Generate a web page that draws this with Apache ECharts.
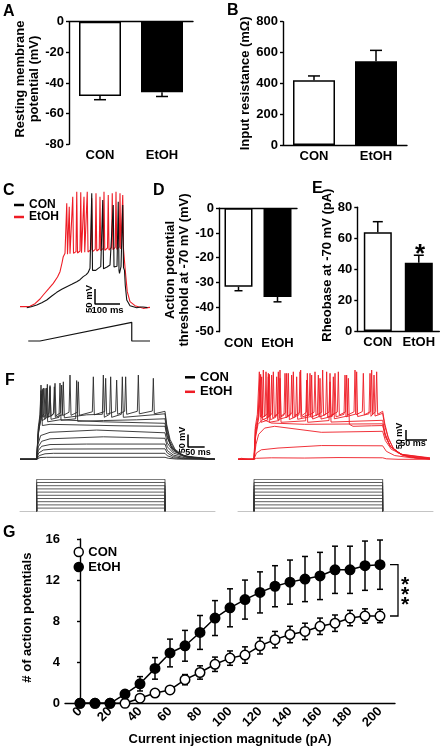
<!DOCTYPE html>
<html><head><meta charset="utf-8">
<script src="https://cdn.jsdelivr.net/npm/echarts@6/dist/echarts.min.js"></script>
<style>html,body{margin:0;padding:0;background:#fff}#c{width:444px;height:750px}</style>
</head><body><div id="c"></div>
<script>
// ---------------- DATA ----------------
const groups = ['CON', 'EtOH'];
const rmpMean = [-48.5, -46.0];   // A: resting membrane potential (mV)
const rmpSem  = [2.4, 2.8];
const rinMean = [420, 543];       // B: input resistance
const rinSem  = [28, 71];
const thrMean = [-31.8, -35.9];   // D: AP threshold (mV)
const thrSem  = [1.6, 2.0];
const rheoMean = [63.8, 44.2];    // E: rheobase (pA)
const rheoSem  = [6.9, 4.8];

const currents = [0,10,20,30,40,50,60,70,80,90,100,110,120,130,140,150,160,170,180,190,200];
const conAP   = [0,0,0,0,0.5,1.0,1.3,2.3,3.0,3.8,4.4,4.7,5.6,6.2,6.7,7.0,7.5,7.8,8.3,8.5,8.5];
const conSem  = [0,0,0,0.1,0.3,0.3,0.3,0.5,0.65,0.7,0.7,0.8,0.8,0.8,0.8,0.8,0.8,0.8,0.75,0.7,0.65];
const etohAP  = [0,0,0,0.9,1.9,3.4,4.9,5.6,6.9,8.3,9.3,10.1,10.8,11.4,11.8,12.1,12.4,13.0,13.0,13.4,13.5];
const etohSem = [0,0,0,0.3,0.7,1.05,1.35,1.5,1.65,1.7,1.85,1.9,2.0,2.0,2.15,2.2,2.3,2.3,2.3,2.4,2.4];
const gTickLabels = [0,20,40,60,80,100,120,140,160,180,200];

// C: ramp-evoked traces, [time ms, mV]
const rampCON = [[27,-72],[45,-69],[67,-64],[87,-57],[107,-49],[127,-37],[147,-26],[167,-17],[187,-9],[207,-2],[227,6],[240,12],[253,21],[265,27],[273,34],[280,46],[284,48],[287,271],[290,40],[293,34],[303,40],[313,46],[323,51],[328,54],[331,251],[334,45],[337,41],[348,50],[360,56],[368,58],[373,236],[376,50],[380,46],[388,52],[393,246],[396,40],[398,31],[404,51],[408,54],[411,236],[414,48],[418,40],[421,-4],[427,-49],[440,-66],[467,-72],[482,-70],[487,-64],[492,-70],[510,-72]];
const rampEtOH = [[0,-69],[8,-70],[20,-69],[40,-68],[60,-60],[80,-46],[93,-34],[115,-15],[133,1],[150,20],[160,36],[168,62],[173,81],[180,91],[184,92],[187,241],[190,88],[194,94],[197,231],[200,90],[208,95],[211,261],[214,91],[224,96],[227,276],[230,92],[240,98],[243,274],[246,93],[253,99],[256,261],[259,94],[266,100],[269,276],[272,95],[284,102],[287,256],[290,96],[301,103],[304,271],[307,98],[317,104],[320,261],[323,99],[333,106],[336,276],[339,100],[350,107],[353,266],[356,101],[366,108],[369,271],[372,102],[381,109],[384,276],[387,103],[397,110],[400,271],[403,104],[408,110],[411,266],[414,104],[417,109],[421,40],[429,-24],[440,-54],[460,-66],[493,-74],[510,-72],[520,-71]];
const rampCmd = [[33,-172],[80,-172],[447,-116],[447,-172],[520,-172]];

// F: step-evoked sweeps, [time ms, mV]
const sweepsCON = [
 [[0,-70],[50,-70],[60,-63],[80,-62],[435,-62],[445,-66],[470,-69],[585,-70]],
 [[0,-70],[50,-70],[58,-55],[75,-48],[100,-46],[435,-46],[442,-56],[460,-64],[490,-68],[585,-70]],
 [[0,-70],[50,-70],[56,-45],[70,-33],[100,-29],[435,-28],[442,-45],[460,-59],[490,-66],[585,-70]],
 [[0,-70],[50,-70],[55,-35],[65,-18],[90,-11],[200,-9],[435,-9],[442,-35],[460,-53],[495,-64],[585,-70]],
 [[0,-70],[50,-70],[55,-20],[65,2],[90,12],[250,20],[435,14],[442,-20],[460,-45],[500,-62],[585,-70]],
 [[0,-70],[50,-70],[54,-10],[62,25],[90,38],[230,47],[435,36],[442,-5],[460,-38],[500,-60],[585,-70]],
 [[0,-70],[50,-70],[54,20],[60,75],[64,190],[67,65],[90,70],[300,64],[435,62],[442,15],[458,-30],[490,-56],[585,-70]],
 [[0,-70],[50,-70],[55,30],[60,95],[63,205],[66,85],[77,92],[80,215],[83,80],[120,88],[250,80],[435,74],[441,25],[455,-25],[480,-50],[520,-64],[585,-70]],
 [[0,-70],[50,-70],[55,40],[65,100],[70,215],[73,92],[87,102],[90,225],[93,90],[117,98],[120,235],[123,86],[167,92],[170,245],[173,82],[250,85],[350,88],[435,92],[441,40],[452,-15],[470,-42],[500,-60],[585,-70]],
 [[0,-70],[50,-70],[55,50],[62,105],[67,210],[70,98],[79,110],[82,230],[85,98],[100,110],[103,220],[106,98],[127,108],[130,240],[133,96],[200,108],[247,110],[250,267],[253,98],[269,110],[272,260],[275,98],[304,110],[307,260],[310,98],[435,112],[440,60],[450,0],[465,-35],[495,-58],[540,-67],[585,-70]],
 [[0,-70],[50,-70],[55,60],[60,110],[63,227],[66,100],[72,112],[75,214],[78,100],[87,115],[90,220],[93,102],[102,116],[105,234],[108,104],[122,117],[125,227],[128,105],[147,118],[150,267],[153,106],[172,118],[175,240],[178,106],[217,120],[220,260],[223,108],[254,121],[257,254],[260,110],[287,122],[290,247],[293,110],[314,122],[317,260],[320,110],[352,122],[355,267],[358,112],[397,123],[400,254],[403,112],[435,122],[440,70],[450,10],[465,-30],[490,-55],[530,-66],[585,-70]]
];
const sweepsEtOH = [
 [[0,-70],[10,-66],[30,-70],[48,-70],[55,-66],[100,-64],[200,-65],[300,-63],[434,-64],[445,-68],[480,-70],[576,-70]],
 [[0,-70],[48,-70],[55,-45],[70,-32],[120,-25],[250,-15],[434,-16],[445,-38],[470,-55],[520,-64],[576,-68]],
 [[0,-70],[48,-70],[54,-10],[62,30],[80,55],[110,62],[250,38],[434,42],[442,5],[460,-30],[500,-55],[576,-66]],
 [[0,-70],[48,-70],[53,20],[60,70],[75,90],[100,75],[200,70],[434,72],[442,20],[458,-20],[490,-50],[576,-64]],
 [[0,-70],[48,-70],[53,30],[60,85],[66,250],[69,78],[88,86],[91,260],[94,78],[123,85],[126,254],[129,78],[203,84],[206,247],[209,78],[273,85],[276,240],[279,79],[434,86],[441,35],[455,-15],[480,-45],[520,-62],[576,-68]],
 [[0,-70],[48,-70],[53,40],[62,95],[71,260],[74,88],[91,98],[94,270],[97,88],[113,98],[116,260],[119,89],[148,99],[151,274],[154,89],[173,100],[176,260],[179,90],[218,101],[221,267],[224,91],[243,101],[246,254],[249,91],[283,102],[286,260],[289,92],[328,103],[331,254],[334,70],[345,62],[400,64],[434,65],[442,25],[458,-20],[490,-50],[576,-66]],
 [[0,-70],[48,-70],[52,50],[60,100],[68,270],[71,95],[81,105],[84,280],[87,95],[98,106],[101,267],[104,96],[118,106],[121,280],[124,96],[138,107],[141,274],[144,97],[158,107],[161,267],[164,97],[183,108],[186,280],[189,98],[213,108],[216,274],[219,98],[238,109],[241,267],[244,99],[263,109],[266,280],[269,99],[288,110],[291,274],[294,100],[318,110],[321,267],[324,100],[353,111],[356,280],[359,101],[393,112],[396,274],[399,102],[405,112],[408,267],[411,103],[434,114],[440,65],[452,10],[468,-30],[495,-55],[540,-66],[576,-69]],
 [[0,-70],[48,-70],[52,60],[58,110],[64,280],[67,100],[73,112],[76,287],[79,100],[88,114],[91,274],[94,102],[103,115],[106,280],[109,102],[123,116],[126,287],[129,103],[143,116],[146,274],[149,103],[163,117],[166,280],[169,104],[185,117],[188,287],[191,104],[205,118],[208,274],[211,105],[228,118],[231,280],[234,105],[251,118],[254,287],[257,106],[273,119],[276,274],[279,106],[298,119],[301,280],[304,107],[323,120],[326,267],[329,107],[348,120],[351,287],[354,108],[373,121],[376,274],[379,108],[398,121],[401,287],[404,109],[413,121],[416,280],[419,110],[434,122],[440,75],[450,20],[465,-25],[490,-52],[530,-64],[576,-68]]
];
// F: current-step protocol (pA) and step timing (ms)
const stepLevels = [20,40,60,80,100,120,140,160,180,200];
const stepOnOffCON = [50, 435];
const stepOnOffEtOH = [48, 434];
// scale bars [time, mV]
const scaleC  = [[300,-16],[300,-61],[400,-61]];
const scaleFL = [[504,29],[504,-21],[554,-21]];
const scaleFR = [[504,47],[504,7],[567,7]];

// ---------------- STYLE ----------------
const FONT = '"Liberation Sans", Arial, Helvetica, sans-serif';
const RED = '#ee1c25';
const LS = {color:'#000', width:1.4};

function yAx(grid, min, max, interval, name, gap, shift) {
  return {type:'value', gridIndex:grid, min, max, interval,
    axisLine:{show:true, lineStyle:LS},
    axisTick:{show:true, length:3, lineStyle:LS},
    axisLabel:{fontFamily:FONT, fontWeight:'bold', fontSize:13, color:'#000', margin:5},
    splitLine:{show:false},
    name, nameLocation:'middle', nameRotate:90, nameGap:gap,
    nameTextStyle:{fontFamily:FONT, fontWeight:'bold', fontSize:13, lineHeight:14, color:'#000', padding:[0,0,0,shift||0]}};
}
function catAx(grid, showLine) {
  return {type:'category', gridIndex:grid, data:groups, position:'bottom',
    axisLine:{show:showLine, onZero:false, lineStyle:LS}, axisTick:{show:false},
    axisLabel:{interval:0, hideOverlap:false, fontFamily:FONT, fontWeight:'bold', fontSize:13, color:'#000', margin:5}};
}
function topLineAx(grid) {
  return {type:'category', gridIndex:grid, data:groups, position:'top',
    axisLine:{show:true, onZero:false, lineStyle:LS}, axisTick:{show:false}, axisLabel:{show:false}};
}
function hidAx(grid, min, max) { return {type:'value', gridIndex:grid, min, max, show:false}; }

function bars(ax, means, w) {
  return {type:'bar', name:'bars'+ax, xAxisIndex:ax, yAxisIndex:ax, barWidth:w, silent:true, z:2,
    data: means.map((v,i)=>({value:v, itemStyle:{color: i===0 ? '#fff' : '#000'}})),
    itemStyle:{borderColor:'#000', borderWidth:1.5}};
}
function barErr(ax, means, sems, cap) {
  return {type:'custom', xAxisIndex:ax, yAxisIndex:ax, silent:true, z:3,
    data: means.map((m,i)=>[i, m, m + Math.sign(m)*sems[i]]),
    encode:{x:0, y:[1,2]},
    renderItem:(p, api)=>{
      const a = api.coord([api.value(0), api.value(1)]), b = api.coord([api.value(0), api.value(2)]);
      const st = {stroke:'#000', lineWidth:1.5};
      return {type:'group', children:[
        {type:'line', shape:{x1:a[0],y1:a[1],x2:b[0],y2:b[1]}, style:st},
        {type:'line', shape:{x1:b[0]-cap,y1:b[1],x2:b[0]+cap,y2:b[1]}, style:st}]};
    }};
}
function trace(ax, name, data, color, w, z) {
  return {type:'line', name, xAxisIndex:ax, yAxisIndex:ax, data, symbol:'none', silent:true,
    lineStyle:{color, width:w}, itemStyle:{color}, z:z||2};
}
function gErr(means, sems) {
  return {type:'custom', xAxisIndex:9, yAxisIndex:9, silent:true, z:3,
    data: currents.map((c,i)=>[c, means[i]-sems[i], means[i]+sems[i]]).filter((d,i)=>sems[i]>0),
    encode:{x:0, y:[1,2]},
    renderItem:(p, api)=>{
      const a = api.coord([api.value(0), api.value(1)]), b = api.coord([api.value(0), api.value(2)]);
      const st = {stroke:'#000', lineWidth:1.5}, c = 3;
      return {type:'group', children:[
        {type:'line', shape:{x1:a[0],y1:a[1],x2:b[0],y2:b[1]}, style:st},
        {type:'line', shape:{x1:a[0]-c,y1:a[1],x2:a[0]+c,y2:a[1]}, style:st},
        {type:'line', shape:{x1:b[0]-c,y1:b[1],x2:b[0]+c,y2:b[1]}, style:st}]};
    }};
}

const series = [];
// A, B, D, E bars
series.push(bars(0, rmpMean, 42), barErr(0, rmpMean, rmpSem, 6));
series.push(bars(1, rinMean, 42), barErr(1, rinMean, rinSem, 6));
series.push(bars(3, thrMean, 28), barErr(3, thrMean, thrSem, 4));
series.push(bars(4, rheoMean, 28), barErr(4, rheoMean, rheoSem, 5));
// C
series.push(trace(2, 'CON', rampCON, '#111', 1.1, 3));
series.push(trace(2, 'EtOH', rampEtOH, RED, 1.1, 2));
series.push(trace(2, 'ramp', rampCmd, '#111', 1.2));
series.push(trace(2, 'scaleC', scaleC, '#000', 1.5));
// F traces
sweepsCON.forEach(s => series.push(trace(5, 'CON', s, '#2a2a2a', 0.9)));
sweepsEtOH.forEach(s => series.push(trace(6, 'EtOH', s, RED, 0.9)));
series.push(trace(5, 'scaleFL', scaleFL, '#000', 1.5));
series.push(trace(6, 'scaleFR', scaleFR, '#000', 1.5));
// F step protocols
stepLevels.forEach(L => {
  const [a,b] = stepOnOffCON, [c,d] = stepOnOffEtOH;
  series.push(trace(7, 'stepL', [[a,0],[a,L],[b,L],[b,0]], '#333', 0.8));
  series.push(trace(8, 'stepR', [[c,0],[c,L],[d,L],[d,0]], '#333', 0.8));
});
// G
series.push(gErr(conAP, conSem), gErr(etohAP, etohSem));
series.push({type:'line', name:'CON', xAxisIndex:9, yAxisIndex:9, silent:true, z:4,
  data: currents.map((c,i)=>[c, conAP[i]]), symbol:'circle', symbolSize:9.5,
  lineStyle:{color:'#000', width:1.5}, itemStyle:{color:'#fff', borderColor:'#000', borderWidth:1.5}});
series.push({type:'line', name:'EtOH', xAxisIndex:9, yAxisIndex:9, silent:true, z:5,
  data: currents.map((c,i)=>[c, etohAP[i]]), symbol:'circle', symbolSize:9.5,
  lineStyle:{color:'#000', width:1.5}, itemStyle:{color:'#000', borderColor:'#000', borderWidth:1.5}});
// G significance bracket
series.push({type:'custom', xAxisIndex:9, yAxisIndex:9, silent:true, z:6,
  data:[[currents[20], etohAP[20], conAP[20]]], encode:{x:0, y:[1,2]},
  renderItem:(p, api)=>{
    const a = api.coord([api.value(0), api.value(1)]), b = api.coord([api.value(0), api.value(2)]);
    const x0 = a[0]+10, x1 = a[0]+18;
    return {type:'group', children:[
      {type:'polyline', shape:{points:[[x0,a[1]],[x1,a[1]],[x1,b[1]],[x0,b[1]]]}, style:{stroke:'#000', lineWidth:1.3, fill:null}},
      {type:'text', style:{text:'*\n*\n*', x:x1+7, y:(a[1]+b[1])/2+5, align:'center', verticalAlign:'middle', fontSize:21, fontWeight:'bold', fontFamily:FONT, lineHeight:10, fill:'#000'}}]};
  }});

const legendText = (fs) => ({fontFamily:FONT, fontWeight:'bold', fontSize:fs, lineHeight:fs, color:'#000'});

const option = {
  animation:false,
  backgroundColor:'#fff',
  grid:[
    {left:69, top:21.7, width:124, height:122.6},     // 0 A
    {left:283, top:21.7, width:124, height:123.3},    // 1 B
    {left:20, top:187, width:132, height:160},        // 2 C
    {left:219, top:208.3, width:78, height:123.4},    // 3 D
    {left:357.3, top:207.3, width:82, height:123.7},  // 4 E
    {left:20, top:369.3, width:195, height:92.5},     // 5 F left traces
    {left:238, top:369.3, width:195, height:92.5},    // 6 F right traces
    {left:20, top:479.3, width:195, height:32},       // 7 F left steps
    {left:238, top:479.3, width:195, height:32},      // 8 F right steps
    {left:65, top:539, width:330, height:164.3}       // 9 G
  ],
  xAxis:[
    catAx(0,false), catAx(1,true), hidAx(2,0,528), catAx(3,false), catAx(4,true),
    hidAx(5,0,585), hidAx(6,0,585),
    {type:'value', gridIndex:7, min:0, max:585, axisLine:{onZero:false, lineStyle:{color:'#c4c4c4', width:1}}, axisTick:{show:false}, axisLabel:{show:false}, splitLine:{show:false}},
    {type:'value', gridIndex:8, min:0, max:585, axisLine:{onZero:false, lineStyle:{color:'#c4c4c4', width:1}}, axisTick:{show:false}, axisLabel:{show:false}, splitLine:{show:false}},
    {type:'value', gridIndex:9, min:-10, max:210, interval:10,
      axisLine:{onZero:false, lineStyle:LS}, axisTick:{show:false}, splitLine:{show:false},
      axisLabel:{rotate:45, margin:6, fontFamily:FONT, fontWeight:'bold', fontSize:13, color:'#000',
        formatter: v => gTickLabels.indexOf(v) >= 0 ? String(v) : ''},
      name:'Current injection magnitude (pA)', nameLocation:'middle', nameGap:30,
      nameTextStyle:{fontFamily:FONT, fontWeight:'bold', fontSize:13, color:'#000'}},
    topLineAx(0), topLineAx(3)
  ],
  yAxis:[
    yAx(0, -80, 0, 20, 'Resting membrane\npotential (mV)', 26, 8),
    yAx(1, 0, 800, 200, 'Input resistance (mΩ)', 27, 0),
    hidAx(2, -190, 290),
    yAx(3, -50, 0, 10, 'Action potential\nthreshold at -70 mV (mV)', 26, 0),
    yAx(4, 0, 80, 20, 'Rheobase at -70 mV (pA)', 21, 8),
    hidAx(5, -80, 290), hidAx(6, -80, 290),
    hidAx(7, 0, 200), hidAx(8, 0, 200),
    yAx(9, 0, 16, 4, '# of action potentials', 24, 7)
  ],
  legend:[
    {left:14, top:199, orient:'vertical', icon:'rect', itemWidth:10, itemHeight:2.5, itemGap:0, padding:0, selectedMode:false,
      textStyle:legendText(12), data:[{name:'CON', itemStyle:{color:'#000', borderWidth:0}}, {name:'EtOH', itemStyle:{color:RED, borderWidth:0}}]},
    {left:185, top:370.8, orient:'vertical', icon:'rect', itemWidth:10, itemHeight:2.5, itemGap:1.5, padding:0, selectedMode:false,
      textStyle:legendText(13), data:[{name:'CON', itemStyle:{color:'#000', borderWidth:0}}, {name:'EtOH', itemStyle:{color:RED, borderWidth:0}}]},
    {left:73.5, top:545.5, orient:'vertical', icon:'circle', itemWidth:9, itemHeight:9, itemGap:2, padding:0, selectedMode:false,
      textStyle:legendText(13), data:[{name:'CON', itemStyle:{color:'#fff', borderColor:'#000', borderWidth:1.5}}, {name:'EtOH', itemStyle:{color:'#000', borderColor:'#000', borderWidth:1.5}}]}
  ],
  graphic:[
    {type:'text', left:3, top:4, style:{text:'A', font:`bold 16px ${FONT}`, fill:'#000'}},
    {type:'text', left:227, top:2.5, style:{text:'B', font:`bold 16px ${FONT}`, fill:'#000'}},
    {type:'text', left:3, top:182.5, style:{text:'C', font:`bold 16px ${FONT}`, fill:'#000'}},
    {type:'text', left:153, top:182.5, style:{text:'D', font:`bold 16px ${FONT}`, fill:'#000'}},
    {type:'text', left:312, top:181, style:{text:'E', font:`bold 16px ${FONT}`, fill:'#000'}},
    {type:'text', left:5, top:372.5, style:{text:'F', font:`bold 16px ${FONT}`, fill:'#000'}},
    {type:'text', left:3, top:525, style:{text:'G', font:`bold 16px ${FONT}`, fill:'#000'}},
    {type:'text', x:89, y:299, rotation:Math.PI/2, style:{text:'50 mV', align:'center', verticalAlign:'middle', font:`bold 9.5px ${FONT}`, fill:'#000'}},
    {type:'text', x:107.5, y:310.5, style:{text:'100 ms', align:'center', verticalAlign:'middle', font:`bold 9.5px ${FONT}`, fill:'#000'}},
    {type:'text', x:183, y:440, rotation:Math.PI/2, style:{text:'50 mV', align:'center', verticalAlign:'middle', font:`bold 9px ${FONT}`, fill:'#000'}},
    {type:'text', x:198, y:453, style:{text:'50 ms', align:'center', verticalAlign:'middle', font:`bold 9px ${FONT}`, fill:'#000'}},
    {type:'text', x:400, y:436, rotation:Math.PI/2, style:{text:'50 mV', align:'center', verticalAlign:'middle', font:`bold 9px ${FONT}`, fill:'#000'}},
    {type:'text', x:413, y:443.5, style:{text:'50 ms', align:'center', verticalAlign:'middle', font:`bold 9px ${FONT}`, fill:'#000'}},
    {type:'text', x:420, y:255, style:{text:'*', align:'center', verticalAlign:'middle', font:`bold 26px ${FONT}`, fill:'#000'}}
  ],
  series
};
const chart = echarts.init(document.getElementById('c'), null, {renderer:'canvas'});
chart.setOption(option);
</script></body></html>
